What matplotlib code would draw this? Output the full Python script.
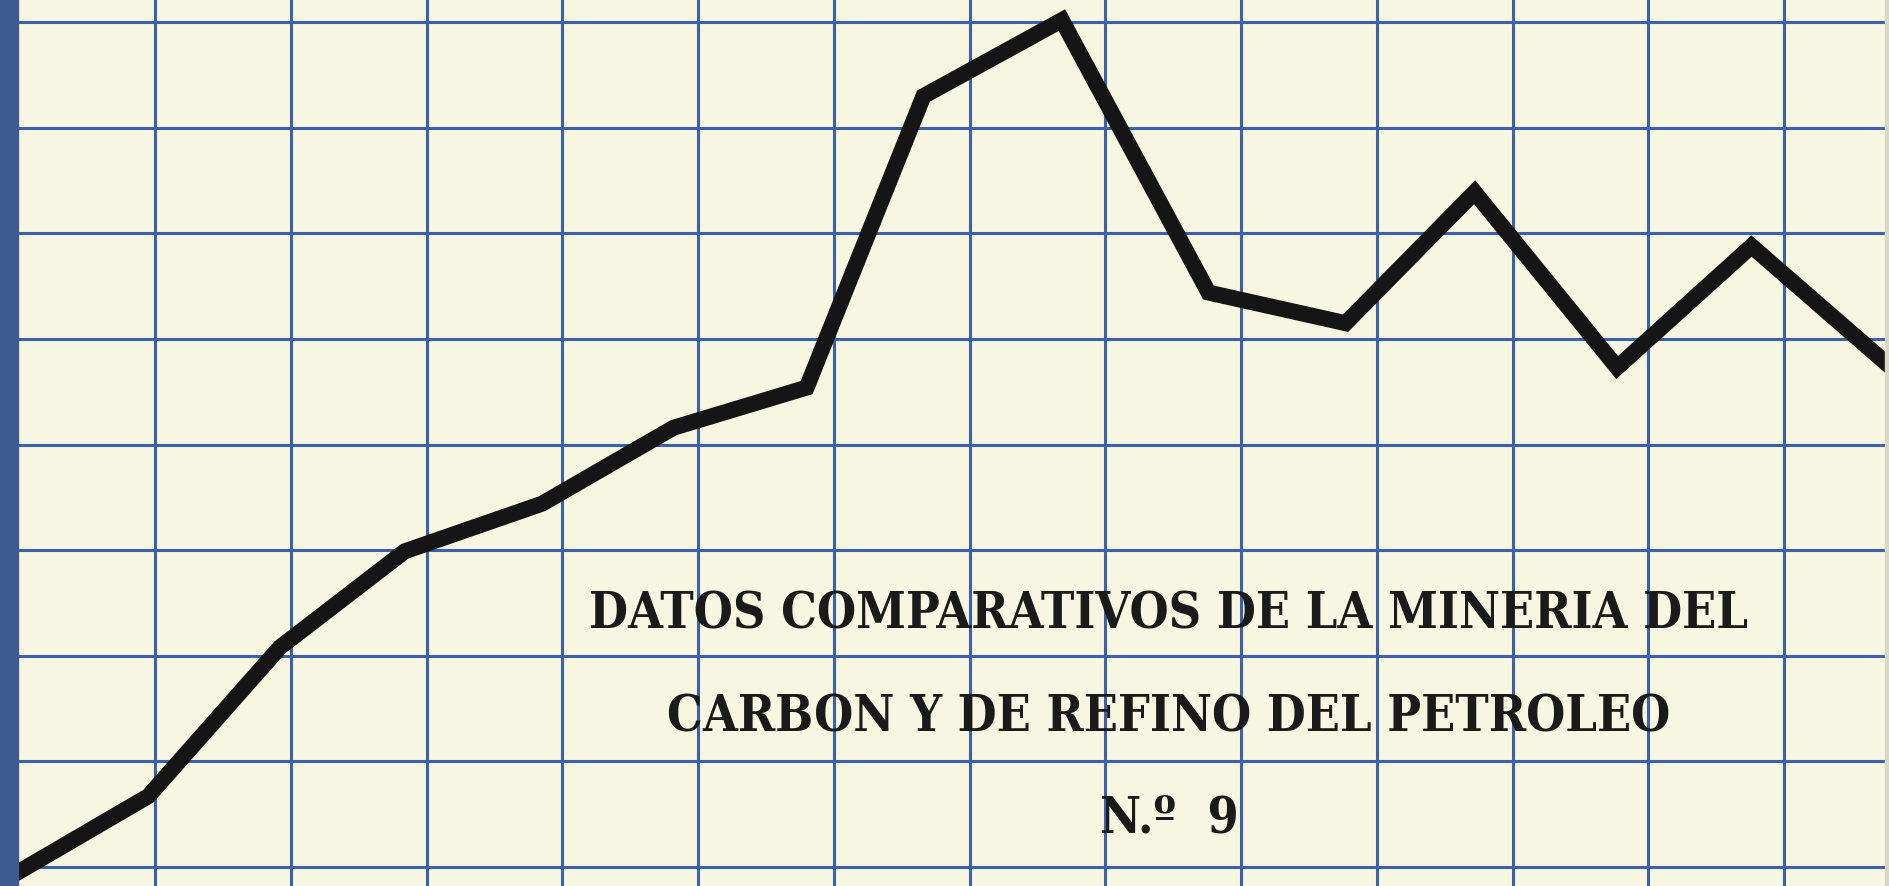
"""
Cover chart: comparative data for coal mining and oil refining (No. 9)
Heavy black trend line over blue graph-paper grid
"""

import matplotlib
matplotlib.use('Agg')
import matplotlib.pyplot as plt

# trend line, in grid units (one unit = one grid cell)
line_x = [-0.05, 0.95, 1.92, 2.84, 3.85, 4.82, 5.80, 6.66, 7.68, 8.76, 9.77, 10.72, 11.77, 12.76, 13.78]
line_y = [-0.08, 0.67, 2.08, 2.99, 3.44, 4.16, 4.54, 7.30, 8.02, 5.44, 5.15, 6.39, 4.73, 5.88, 4.74]

# graph paper lines
grid_cols = list(range(1, 14))
grid_rows = list(range(0, 9))

title_lines = [
    'DATOS COMPARATIVOS DE LA MINERIA DEL',
    'CARBON Y DE REFINO DEL PETROLEO',
    'N.º  9',
]

paper = '#f7f6e0'
grid_blue = '#3c61ab'
bar_blue = '#3d5b91'

fig = plt.figure(figsize=(18.9, 8.87), dpi=100)
fig.patch.set_facecolor(paper)
ax = fig.add_axes([0, 0, 1, 1])
ax.set_facecolor(paper)
ax.set_xlim(-0.142, 13.78)
ax.set_ylim(-0.18, 8.22)
ax.axis('off')

for c in grid_cols:
    ax.axvline(c, color=grid_blue, lw=2.2, zorder=1)
for r in grid_rows:
    ax.axhline(r, color=grid_blue, lw=2.2, zorder=1)

# blue spine on the left edge
ax.axvspan(-0.142, -0.01, color=bar_blue, zorder=4)
# faint shadow strip on the right edge
ax.axvspan(13.745, 13.78, color='#d9d8c6', zorder=4)

ax.plot(line_x, line_y, color='#151515', lw=11.5, solid_joinstyle='miter',
        solid_capstyle='butt', zorder=3)

font_list = ['DejaVu Serif Condensed', 'Liberation Sans Narrow', 'DejaVu Serif']
text_y = [0.291, 0.175, 0.062]
for s, ty in zip(title_lines, text_y):
    ax.text(0.6185, ty, s, transform=ax.transAxes, ha='center', va='baseline',
            fontsize=36, family=font_list, fontstretch='condensed',
            fontweight='bold', color='#1a1a1a', zorder=5)

fig.savefig('out.png', dpi=100, facecolor=paper)
